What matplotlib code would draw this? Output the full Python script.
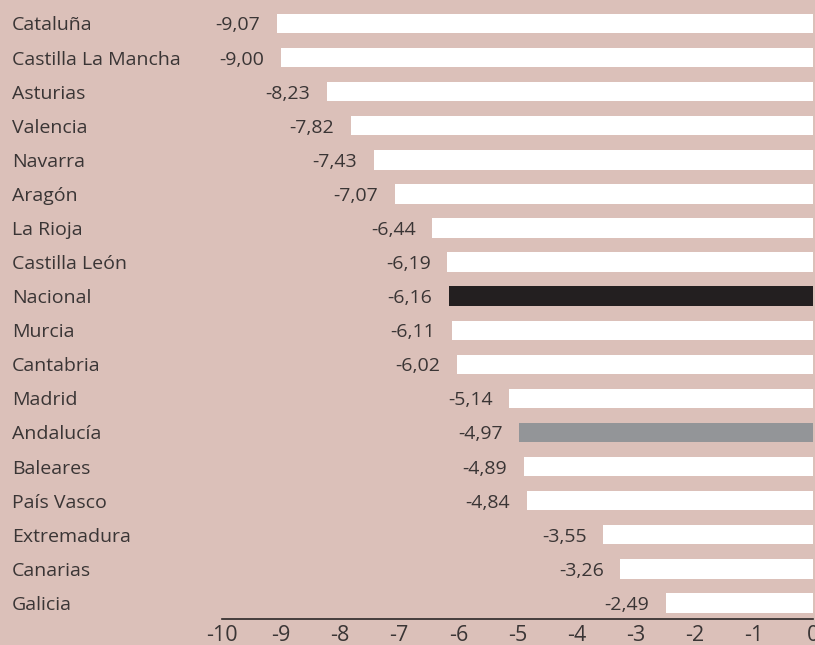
import matplotlib.pyplot as plt

plt.rcParams['font.family'] = ['Open Sans', 'DejaVu Sans']

regions = ['Cataluña', 'Castilla La Mancha', 'Asturias', 'Valencia', 'Navarra',
           'Aragón', 'La Rioja', 'Castilla León', 'Nacional', 'Murcia',
           'Cantabria', 'Madrid', 'Andalucía', 'Baleares', 'País Vasco',
           'Extremadura', 'Canarias', 'Galicia']
values = [-9.07, -9.00, -8.23, -7.82, -7.43, -7.07, -6.44, -6.19, -6.16, -6.11,
          -6.02, -5.14, -4.97, -4.89, -4.84, -3.55, -3.26, -2.49]
ticks = [-10, -9, -8, -7, -6, -5, -4, -3, -2, -1, 0]

bg = '#dbc0b9'
text_col = '#3a3535'
colors = []
for r in regions:
    if r == 'Nacional':
        colors.append('#231f20')
    elif r == 'Andalucía':
        colors.append('#939598')
    else:
        colors.append('white')

fig = plt.figure(figsize=(8.15, 6.45), dpi=100, facecolor=bg)
ax = fig.add_axes([222 / 815, 25.7 / 645, 591 / 815, 619.3 / 645])
ax.set_facecolor(bg)

y = list(range(len(regions)))
ax.barh(y, values, height=0.57, color=colors)

for yi, v, name in zip(y, values, regions):
    ax.annotate(f'{v:.2f}'.replace('.', ','), (v, yi), xytext=(-12, -5),
                textcoords='offset points', ha='right', va='baseline',
                fontsize=14, color=text_col)
    ax.annotate(name, (12 / 815, yi), xycoords=('figure fraction', 'data'),
                xytext=(0, -5), textcoords='offset points',
                ha='left', va='baseline', fontsize=14, color=text_col)

ax.set_xlim(-10, 0)
ax.set_ylim(17.48, -0.689)
ax.set_xticks(ticks)
ax.set_xticklabels([str(t) for t in ticks], fontsize=15.5, color=text_col,
                   family=['Liberation Sans Narrow', 'Open Sans'])
ax.tick_params(axis='x', length=0, pad=4)
ax.set_yticks([])
for s in ['top', 'right', 'left']:
    ax.spines[s].set_visible(False)
ax.spines['bottom'].set_color('#2b2727')
ax.spines['bottom'].set_linewidth(1.2)

fig.savefig('out.png', dpi=100, facecolor=bg)
